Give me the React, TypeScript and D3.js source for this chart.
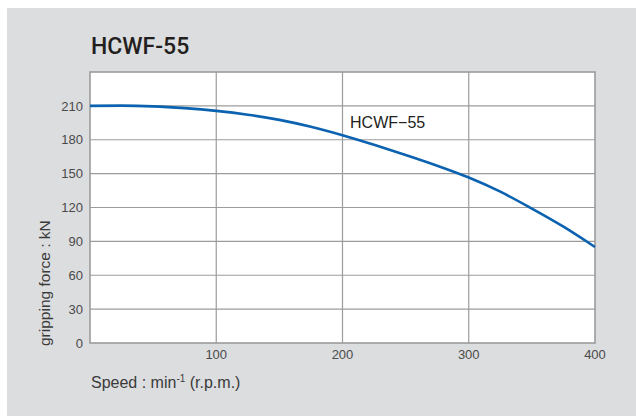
import * as d3 from 'd3';
import { useEffect, useRef } from 'react';

const WIDTH = 636;
const HEIGHT = 416;
const MARGIN = { top: 72, right: 41, bottom: 73, left: 90 };

const CHART_TITLE = 'HCWF-55';
const SERIES_LABEL = 'HCWF\u221255';
const Y_LABEL = 'gripping force : kN';

// speed (min-1) vs gripping force (kN)
const speeds = [0, 25, 50, 75, 100, 125, 150, 175, 200, 225, 250, 275, 300, 325, 350, 375, 400];
const forces = [210, 210.2, 209.6, 208, 205.6, 202.2, 197.6, 191.5, 184, 175.5, 166.5, 157, 146.5, 134, 119, 103, 85];

const xTicks = [100, 200, 300, 400];
const yTicks = [0, 30, 60, 90, 120, 150, 180, 210];
const yGrid = [30, 60, 90, 120, 150, 180, 210];

const FONT = '"Liberation Sans", Arial, sans-serif';

const App = () => {
    const svgRef = useRef<SVGSVGElement>(null);

    useEffect(() => {
        const node = svgRef.current;
        if (!node) return;
        const innerWidth = WIDTH - MARGIN.left - MARGIN.right;
        const innerHeight = HEIGHT - MARGIN.top - MARGIN.bottom;

        const xScale = d3.scaleLinear().domain([0, 400]).range([0, innerWidth]);
        const yScale = d3.scaleLinear().domain([0, 240]).range([innerHeight, 0]);

        const svg = d3.select(node);
        svg.selectAll('*').remove();

        // grey panel
        svg.append('rect')
            .attr('x', 7)
            .attr('y', 8)
            .attr('width', WIDTH - 7)
            .attr('height', HEIGHT - 8)
            .attr('fill', '#dcdddf');

        svg.append('text')
            .attr('x', 91)
            .attr('y', 54)
            .attr('font-family', 'Roboto, ' + FONT)
            .attr('font-weight', 500)
            .attr('font-size', 23)
            .attr('fill', '#231f20')
            .text(CHART_TITLE);

        const g = svg.append('g').attr('transform', `translate(${MARGIN.left},${MARGIN.top})`);

        g.append('rect')
            .attr('width', innerWidth)
            .attr('height', innerHeight)
            .attr('fill', '#ffffff');

        // grid
        g.selectAll('line.hgrid')
            .data(yGrid)
            .enter()
            .append('line')
            .attr('class', 'hgrid')
            .attr('x1', 0)
            .attr('x2', innerWidth)
            .attr('y1', (d) => yScale(d))
            .attr('y2', (d) => yScale(d))
            .attr('stroke', '#9c9c9c')
            .attr('stroke-width', 1.2);

        g.selectAll('line.vgrid')
            .data(xTicks.filter((d) => d < 400))
            .enter()
            .append('line')
            .attr('class', 'vgrid')
            .attr('x1', (d) => xScale(d))
            .attr('x2', (d) => xScale(d))
            .attr('y1', 0)
            .attr('y2', innerHeight)
            .attr('stroke', '#9c9c9c')
            .attr('stroke-width', 1.2);

        g.append('rect')
            .attr('width', innerWidth)
            .attr('height', innerHeight)
            .attr('fill', 'none')
            .attr('stroke', '#9c9c9c')
            .attr('stroke-width', 1.6);

        // tick labels
        g.selectAll('text.ytick')
            .data(yTicks)
            .enter()
            .append('text')
            .attr('class', 'ytick')
            .attr('x', -7)
            .attr('y', (d) => yScale(d))
            .attr('dy', '0.36em')
            .attr('text-anchor', 'end')
            .attr('font-family', FONT)
            .attr('font-size', 13)
            .attr('fill', '#4a4a4a')
            .text((d) => d);

        g.selectAll('text.xtick')
            .data(xTicks)
            .enter()
            .append('text')
            .attr('class', 'xtick')
            .attr('x', (d) => xScale(d))
            .attr('y', innerHeight + 16)
            .attr('text-anchor', 'middle')
            .attr('font-family', FONT)
            .attr('font-size', 13)
            .attr('fill', '#4a4a4a')
            .text((d) => d);

        // curve
        const line = d3
            .line<number>()
            .x((_d, i) => xScale(speeds[i]))
            .y((d) => yScale(d))
            .curve(d3.curveMonotoneX);

        g.append('path')
            .datum(forces)
            .attr('d', line)
            .attr('fill', 'none')
            .attr('stroke', '#0b62b0')
            .attr('stroke-width', 2.6);

        g.append('text')
            .attr('x', xScale(206))
            .attr('y', 56)
            .attr('font-family', FONT)
            .attr('font-size', 16)
            .attr('fill', '#231f20')
            .text(SERIES_LABEL);

        // axis titles
        const xLabel = svg
            .append('text')
            .attr('x', 91)
            .attr('y', 388)
            .attr('font-family', FONT)
            .attr('font-size', 16)
            .attr('fill', '#3a3a3a');
        xLabel.append('tspan').text('Speed : min');
        xLabel.append('tspan').attr('dy', -6).attr('font-size', 10).text('-1');
        xLabel.append('tspan').attr('dy', 6).text(' (r.p.m.)');

        svg.append('text')
            .attr('transform', 'translate(50,346) rotate(-90)')
            .attr('font-family', FONT)
            .attr('font-size', 15.5)
            .attr('fill', '#3a3a3a')
            .text(Y_LABEL);
    }, []);

    return (
        <div style={{ position: 'absolute', left: 0, top: 0 }}>
            <svg ref={svgRef} width={WIDTH} height={HEIGHT} style={{ display: 'block', background: '#ffffff' }}></svg>
        </div>
    );
};

export default App;
